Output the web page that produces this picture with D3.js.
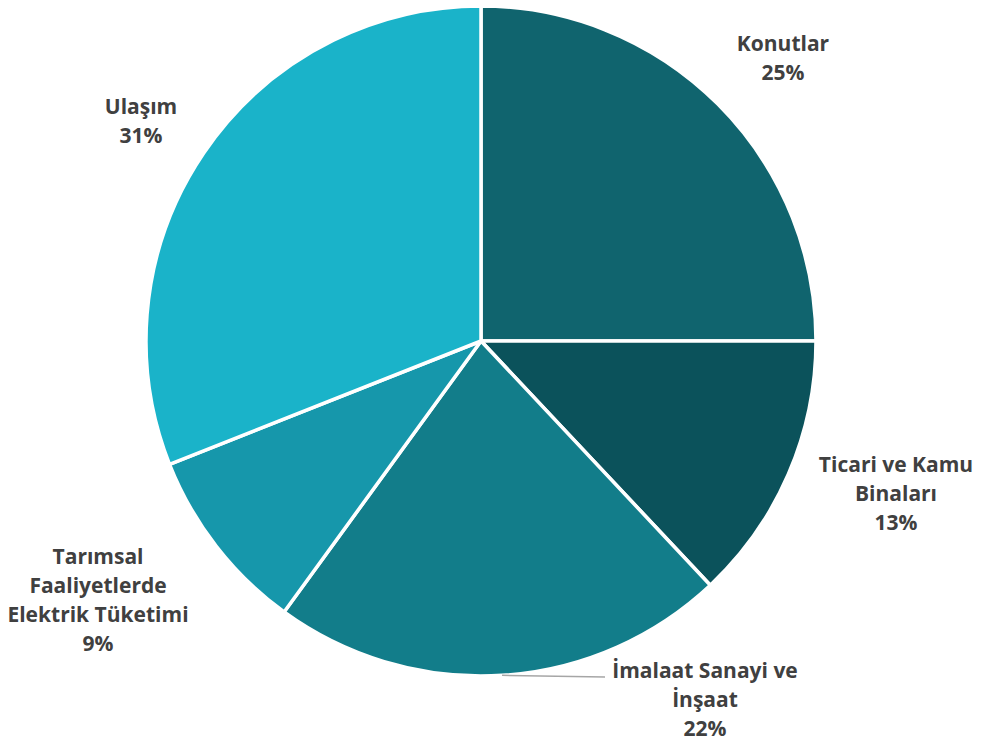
<!DOCTYPE html>
<html>
<head>
<meta charset="utf-8">
<script src="https://cdn.jsdelivr.net/npm/d3@7"></script>
<style>
  html, body { margin: 0; padding: 0; background: #ffffff; }
  svg { display: block; }
  .lbl { font-family: "Open Sans", "Noto Sans", sans-serif; font-weight: 700; fill: #404040; }
</style>
</head>
<body>
<svg id="chart" width="983" height="746"></svg>
<script>
// Electricity consumption shares by sector (%)
const categories = ["Konutlar", "Ticari ve Kamu Binaları", "İmalaat Sanayi ve İnşaat", "Tarımsal Faaliyetlerde Elektrik Tüketimi", "Ulaşım"];
const values = [25, 13, 22, 9, 31];
const labelLines = [
  ["Konutlar"],
  ["Ticari ve Kamu", "Binaları"],
  ["İmalaat Sanayi ve", "İnşaat"],
  ["Tarımsal", "Faaliyetlerde", "Elektrik Tüketimi"],
  ["Ulaşım"]
];
const colors = ["#10646e", "#0b525b", "#127d8a", "#1697ab", "#1ab3c9"];

const W = 983, H = 746;
const cx = 481, cy = 341, R = 335;
const fontSize = 21, lineH = 29;

// label block centres, relative to the pie centre
const labelPos = [
  { x: 302, y: -283 },
  { x: 415, y: 153 },
  { x: 224, y: 359 },
  { x: -383, y: 259 },
  { x: -340, y: -220 }
];

const data = categories.map((c, i) => ({ name: c, value: values[i], lines: labelLines[i], color: colors[i], pos: labelPos[i] }));
const total = d3.sum(values);

const svg = d3.select("#chart");
const g = svg.append("g").attr("transform", `translate(${cx},${cy})`);

const pie = d3.pie().value(d => d.value).sort(null);
const arc = d3.arc().innerRadius(0).outerRadius(R);
const arcs = pie(data);

g.selectAll("path.slice")
  .data(arcs)
  .join("path")
  .attr("class", "slice")
  .attr("d", arc)
  .attr("fill", d => d.data.color)
  .attr("stroke", "#ffffff")
  .attr("stroke-width", 3.5)
  .attr("stroke-linejoin", "round");

// leader line for the label that sits away from its slice
arcs.forEach((a, i) => {
  if (i !== 2) return;
  const mid = (a.startAngle + a.endAngle) / 2;
  const sx = Math.sin(mid) * R, sy = -Math.cos(mid) * R;
  g.append("line")
    .attr("x1", sx).attr("y1", sy)
    .attr("x2", a.data.pos.x - 100).attr("y2", a.data.pos.y - 23)
    .attr("stroke", "#a6a6a6").attr("stroke-width", 1.5);
});

const labels = g.selectAll("text.lbl")
  .data(arcs)
  .join("text")
  .attr("class", "lbl")
  .attr("text-anchor", "middle")
  .attr("font-size", fontSize);

labels.each(function(a) {
  const d = a.data;
  const lines = d.lines.concat([Math.round(d.value / total * 100) + "%"]);
  const n = lines.length;
  const t = d3.select(this);
  lines.forEach((s, k) => {
    t.append("tspan")
      .attr("x", d.pos.x)
      .attr("y", d.pos.y + (k - (n - 1) / 2) * lineH)
      .attr("dy", "0.35em")
      .text(s);
  });
});
</script>
</body>
</html>
